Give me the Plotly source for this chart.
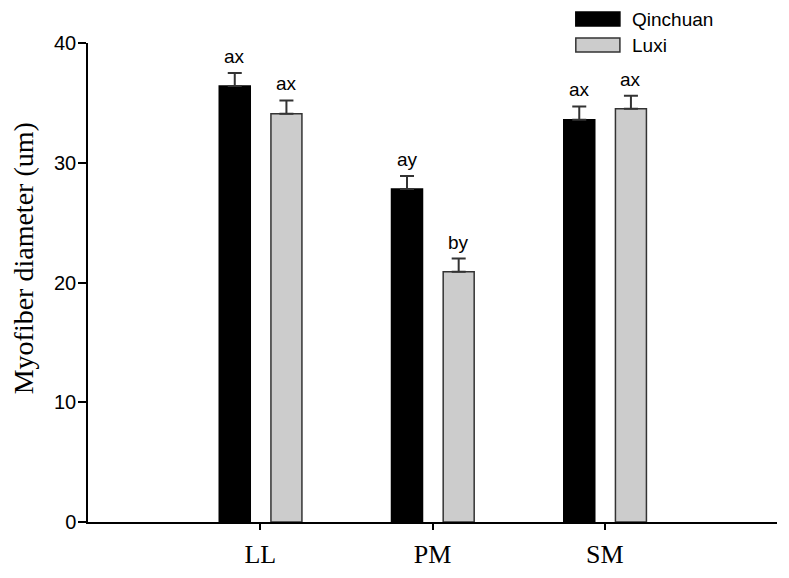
import plotly.graph_objects as go

categories = ["LL", "PM", "SM"]
qinchuan = [36.4, 27.8, 33.6]
qinchuan_err = [1.1, 1.1, 1.1]
luxi = [34.1, 20.9, 34.5]
luxi_err = [1.1, 1.1, 1.1]
qinchuan_labels = ["ax", "ay", "ax"]
luxi_labels = ["ax", "by", "ax"]
y_ticks = [0, 10, 20, 30, 40]

xpos = [1, 2, 3]
BW = 0.18
OFF_Q = -0.238
OFF_L = 0.062
SANS = "Liberation Sans, Arial"
SERIF = "Liberation Serif, Times New Roman"

fig = go.Figure()
fig.add_trace(go.Bar(
    x=xpos, y=qinchuan, name="Qinchuan", width=BW, offset=OFF_Q,
    marker=dict(color="#000000", line=dict(color="#000000", width=1.5)),
    error_y=dict(type="data", symmetric=False, array=qinchuan_err, arrayminus=[0]*3,
                 color="#333333", thickness=2, width=7),
    showlegend=False,
))
fig.add_trace(go.Bar(
    x=xpos, y=luxi, name="Luxi", width=BW, offset=OFF_L,
    marker=dict(color="#cccccc", line=dict(color="#333333", width=1.5)),
    error_y=dict(type="data", symmetric=False, array=luxi_err, arrayminus=[0]*3,
                 color="#333333", thickness=2, width=7),
    showlegend=False,
))
fig.update_layout(barmode="overlay")

ann = []
for i, x in enumerate(xpos):
    ann.append(dict(x=x + OFF_Q + BW / 2, y=qinchuan[i] + qinchuan_err[i], text=qinchuan_labels[i],
                    showarrow=False, yanchor="bottom", yshift=4,
                    font=dict(family=SANS, size=19, color="#000")))
    ann.append(dict(x=x + OFF_L + BW / 2, y=luxi[i] + luxi_err[i], text=luxi_labels[i],
                    showarrow=False, yanchor="bottom", yshift=4,
                    font=dict(family=SANS, size=19, color="#000")))

# y-axis title (placed as annotation to match reference position)
ann.append(dict(xref="paper", yref="paper", x=-0.094, y=0.551, text="Myofiber diameter (um)",
                textangle=-90, showarrow=False, xanchor="center", yanchor="middle",
                font=dict(family=SERIF, size=28, color="#000")))

# manual legend
leg_items = [("Qinchuan", "#000000", "#000000"), ("Luxi", "#cccccc", "#333333")]
shapes = []
for k, (name, fill, line) in enumerate(leg_items):
    top = 1.0647 - k * 0.0543
    shapes.append(dict(type="rect", xref="paper", yref="paper",
                       x0=0.708, x1=0.772, y0=top - 0.0292, y1=top,
                       fillcolor=fill, line=dict(color=line, width=1.5)))
    ann.append(dict(xref="paper", yref="paper", x=0.787, y=top - 0.0146, text=name,
                    showarrow=False, xanchor="left", yanchor="middle",
                    font=dict(family=SANS, size=19, color="#000")))

# page body has an 8px default margin, so size/margins compensate for it
fig.update_layout(
    width=781, height=570,
    margin=dict(l=80, r=12, t=35, b=56),
    plot_bgcolor="white", paper_bgcolor="white",
    annotations=ann, shapes=shapes,
    xaxis=dict(range=[0, 4], tickmode="array", tickvals=xpos, ticktext=categories,
               automargin=False,
               showline=True, linecolor="#000", linewidth=1.5, ticks="outside",
               ticklen=6, tickcolor="#000", tickwidth=1.5, showgrid=False, zeroline=False,
               ticklabelstandoff=2,
               tickfont=dict(family=SERIF, size=26, color="#000")),
    yaxis=dict(range=[0, 40], tickvals=y_ticks, showline=True, linecolor="#000", linewidth=1.5,
               automargin=False,
               ticks="outside", ticklen=8, tickcolor="#000", tickwidth=1.5,
               showgrid=False, zeroline=False, ticklabelstandoff=-2,
               tickfont=dict(family=SANS, size=20, color="#000")),
)

fig.write_html("out.html")
